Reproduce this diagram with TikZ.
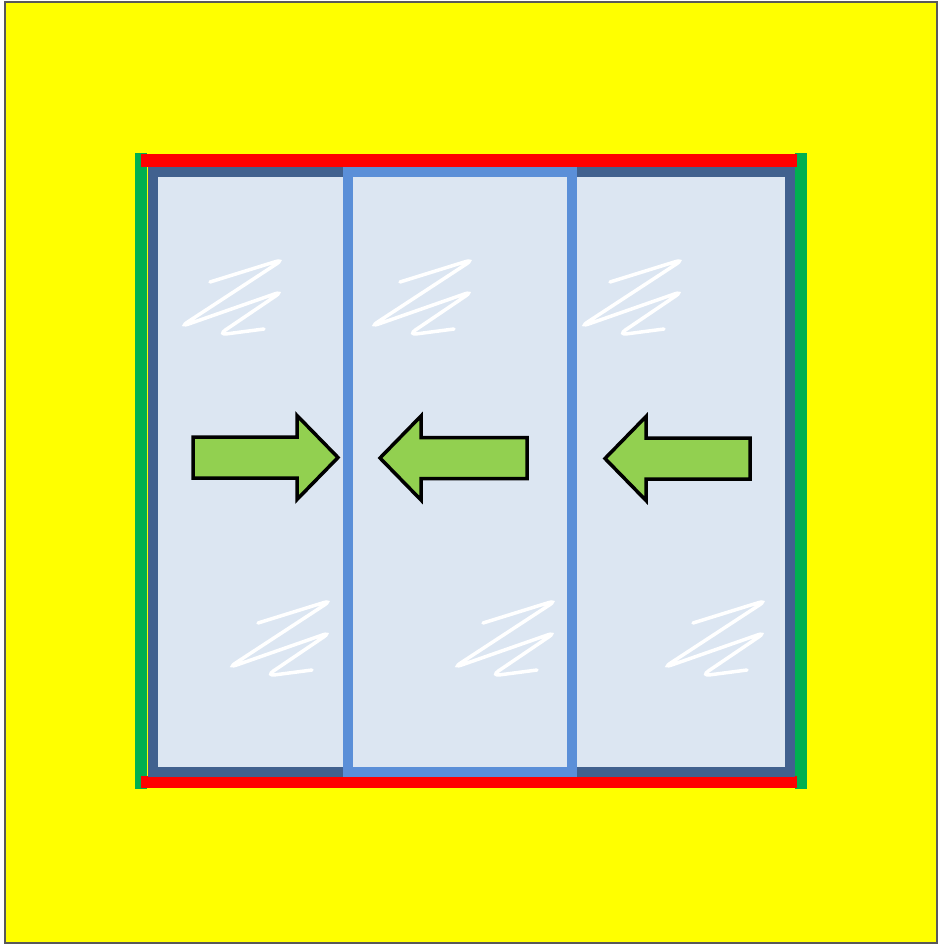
\documentclass[tikz,border=0pt]{standalone}
\usepackage{xcolor}
\usepackage{tikz}
\definecolor{wallyellow}{HTML}{FFFF00}
\definecolor{trackred}{HTML}{FF0000}
\definecolor{jambgreen}{HTML}{00B050}
\definecolor{framedark}{HTML}{41618F}
\definecolor{framelight}{HTML}{5B8FD8}
\definecolor{glassblue}{HTML}{DCE6F2}
\definecolor{arrowgreen}{HTML}{92D050}
\tikzset{x=1pt, y=-1pt,
         wall/.style={fill=wallyellow, draw=gray!70!black, line width=1.5},
         glass/.style={fill=glassblue},
         jamb/.style={draw=jambgreen, line width=12},
         track/.style={draw=trackred, line width=12.5},
         outerframe/.style={draw=framedark, line width=10},
         slideframe/.style={draw=framelight, line width=10},
         pics/push/.style={code={
             \draw[fill=arrowgreen, draw=black, line width=3.5, line join=miter]
                 (0,0) -- (-41,-42) -- (-41,-20.5) -- (-#1,-20.5)
                 -- (-#1,20.5) -- (-41,20.5) -- (-41,42) -- cycle;}},
         pics/glare/.style={code={
             \draw[white, line width=3.5, line cap=round, rounded corners=9]
                 (0,0) -- (74,-23) -- (-30,45) -- (73,9) -- (8,53) -- (54,47);}},
         }

\begin{document}
\begin{tikzpicture}
    \useasboundingbox (0,0) rectangle (944,947);
    \draw[wall] (5,2) rectangle (937,943);
    \fill[glass] (152,172) rectangle (790,772);

    \draw[jamb] (141,153) -- (141,789);
    \draw[jamb] (800.5,153) -- (800.5,789);
    \draw[track] (141,160.5) -- (797,160.5);
    \draw[track] (141,782) -- (797,782);

    \draw[outerframe] (152.5,172) rectangle (789.5,772);
    \draw[slideframe] (347.5,172) rectangle (571.5,772);

    \foreach \px/\py in {210/282, 400/282, 610/282, 258/623, 483/623, 693/623}
        \pic at (\px,\py) {glare};

    \pic at (338,457.5) {push=145};
    \pic[rotate=180] at (380,458) {push=147};
    \pic[rotate=180] at (605,458.5) {push=145};
\end{tikzpicture}
\end{document}
